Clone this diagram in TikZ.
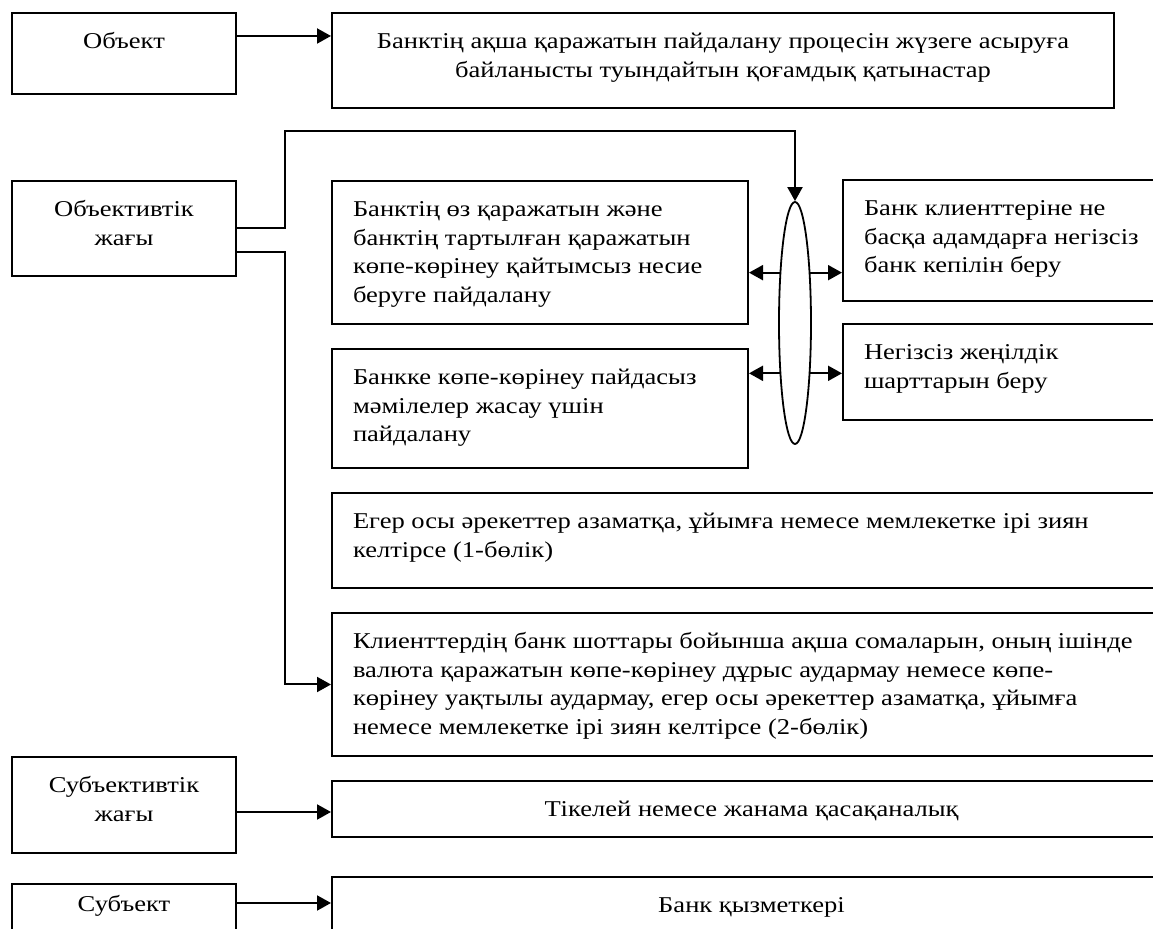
\documentclass[tikz,border=0pt]{standalone}
\usepackage{fontspec}
\setmainfont{Liberation Serif}[FakeStretch=1.175]
\usepackage{tikz}
\usetikzlibrary{arrows.meta,positioning,calc,shapes.geometric}
% text block of fixed height, set from the top of the box
\newcommand{\celltext}[5][18pt]{\parbox[c][#3][t]{#4}{#2\rule{0pt}{#1}#5}}

\begin{document}
\begin{tikzpicture}[
  x=0.5pt,y=-0.5pt,
  font=\fontsize{11.3}{14.2}\selectfont,
  box/.style={draw,line width=1pt,anchor=north west,inner xsep=10.5pt,inner ysep=0pt},
  oval/.style={draw,line width=0.9pt,ellipse,inner sep=0pt,minimum width=16pt,minimum height=121pt},
  ar/.style={-{Triangle[length=7pt,width=7.5pt]},line width=1pt}
]
\useasboundingbox (0,0) rectangle (1153,929);
\clip (0,0) rectangle (1153,929);

% ---------------- left column
\node[box] (obj) at (11,12) {\celltext{\centering}{40.5pt}{91pt}{Объект}};
\node[box] (objside) at (11,180) {\celltext{\centering}{47.5pt}{91pt}{Объективтік\\жағы}};
\node[box] (subjside) at (11,756) {\celltext{\centering}{48pt}{91pt}{Субъективтік\\жағы}};
\node[box] (subj) at (11,883) {\celltext[14pt]{\centering}{35pt}{91pt}{Субъект}};

% ---------------- object
\node[box] (objt) at (331,12) {\celltext{\centering}{47.5pt}{370pt}{Банктің ақша қаражатын пайдалану процесін жүзеге асыруға\\байланысты туындайтын қоғамдық қатынастар}};

% ---------------- objective side
\node[box] (bA) at (331,180) {\celltext{\raggedright}{71.5pt}{187pt}{Банктің өз қаражатын және\\банктің тартылған қаражатын\\көпе-көрінеу қайтымсыз несие\\беруге пайдалану}};
\node[box] (bC) at (331,348) {\celltext{\raggedright}{59.5pt}{187pt}{Банкке көпе-көрінеу пайдасыз\\мәмілелер жасау үшін\\пайдалану}};
\node[box] (bB) at (842,179) {\celltext{\raggedright}{60.5pt}{143pt}{Банк клиенттеріне не\\басқа адамдарға негізсіз\\банк кепілін беру}};
\node[box] (bD) at (842,323) {\celltext{\raggedright}{48pt}{143pt}{Негізсіз жеңілдік\\шарттарын беру}};
\node[oval] (hub) at (795,323) {};

\node[box] (bE) at (331,492) {\celltext{\raggedright}{47.5pt}{398.5pt}{Егер осы әрекеттер азаматқа, ұйымға немесе мемлекетке ірі зиян\\келтірсе (1-бөлік)}};
\node[box] (bF) at (331,612) {\celltext{\raggedright}{71.5pt}{398.5pt}{Клиенттердің банк шоттары бойынша ақша сомаларын, оның ішінде\\валюта қаражатын көпе-көрінеу дұрыс аудармау немесе көпе-\\көрінеу уақтылы аудармау, егер осы әрекеттер азаматқа, ұйымға\\немесе мемлекетке ірі зиян келтірсе (2-бөлік)}};

% ---------------- subjective side, subject
\node[box] (bG) at (331,780) {\celltext{\centering}{28pt}{398.5pt}{Тікелей немесе жанама қасақаналық}};
\node[box] (bH) at (331,876) {\celltext{\centering}{35pt}{398.5pt}{Банк қызметкері}};

% ---------------- arrows
\coordinate (objout) at ($(obj.north east)+(0,24)$);
\coordinate (sideout) at ($(objside.east)+(0,24)$);
\coordinate (subjsideout) at ($(subjside.north east)+(0,56)$);
\coordinate (subjout) at ($(subj.north east)+(0,20)$);
\draw[ar] (objout) -- (objout -| objt.west);
\draw[ar] (objside.east) -- ++(48,0) -- ++(0,-97) -| (hub.north);
\draw[ar] (sideout) -- ++(48,0) |- (bF.west);
\foreach \a in {107,253} \draw[ar] (hub.\a) -- (hub.\a -| bA.east);
\foreach \a in {73,-73} \draw[ar] (hub.\a) -- (hub.\a -| bB.west);
\draw[ar] (subjsideout) -- (subjsideout -| bG.west);
\draw[ar] (subjout) -- (subjout -| bH.west);
\end{tikzpicture}
\end{document}
